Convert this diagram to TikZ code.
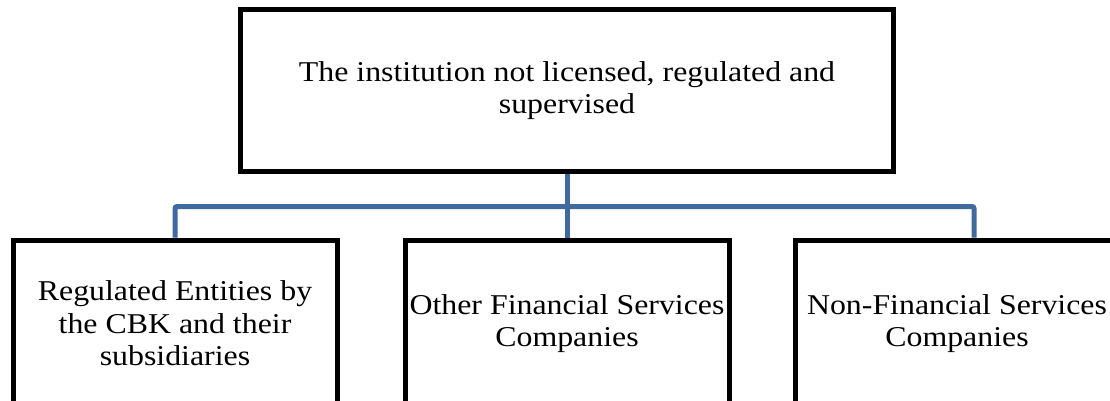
\documentclass[tikz,border=0pt]{standalone}
\usepackage{fontspec}
\setmainfont{Liberation Serif}[FakeStretch=1.11]
\usetikzlibrary{backgrounds}
\definecolor{connblue}{HTML}{3E6A9F}
\tikzset{
  box/.style={draw=black, line width=5pt, fill=white, align=center,
    font=\fontsize{28.7pt}{32.5pt}\selectfont, inner sep=0pt},
  topbox/.style={box, minimum width=653pt, minimum height=161.5pt},
  subbox/.style={box, minimum width=324pt, minimum height=167pt},
  conn/.style={draw=connblue, line width=5pt, rounded corners=2pt}
}
\begin{document}
\begin{tikzpicture}[x=1pt,y=-1pt]
\useasboundingbox (0,0) rectangle (1110,401);
\clip (0,0) rectangle (1110,401);
\node[topbox] (top) at (567,90.75) {The institution not licensed, regulated and\\supervised};
\node[subbox] (left) at (175,323.5) {Regulated Entities by\\the CBK and their\\subsidiaries};
\node[subbox] (mid) at (567,323.5) {Other Financial Services\\Companies};
\node[subbox] (right) at (957,323.5) {Non-Financial Services\\Companies};
\coordinate (bus) at (567,206.5);
\begin{scope}[on background layer]
\draw[conn] (top.south) -- (mid.north);
\draw[conn] (left.north) |- (bus) -| ([xshift=17pt]right.north);
\end{scope}
\end{tikzpicture}
\end{document}
